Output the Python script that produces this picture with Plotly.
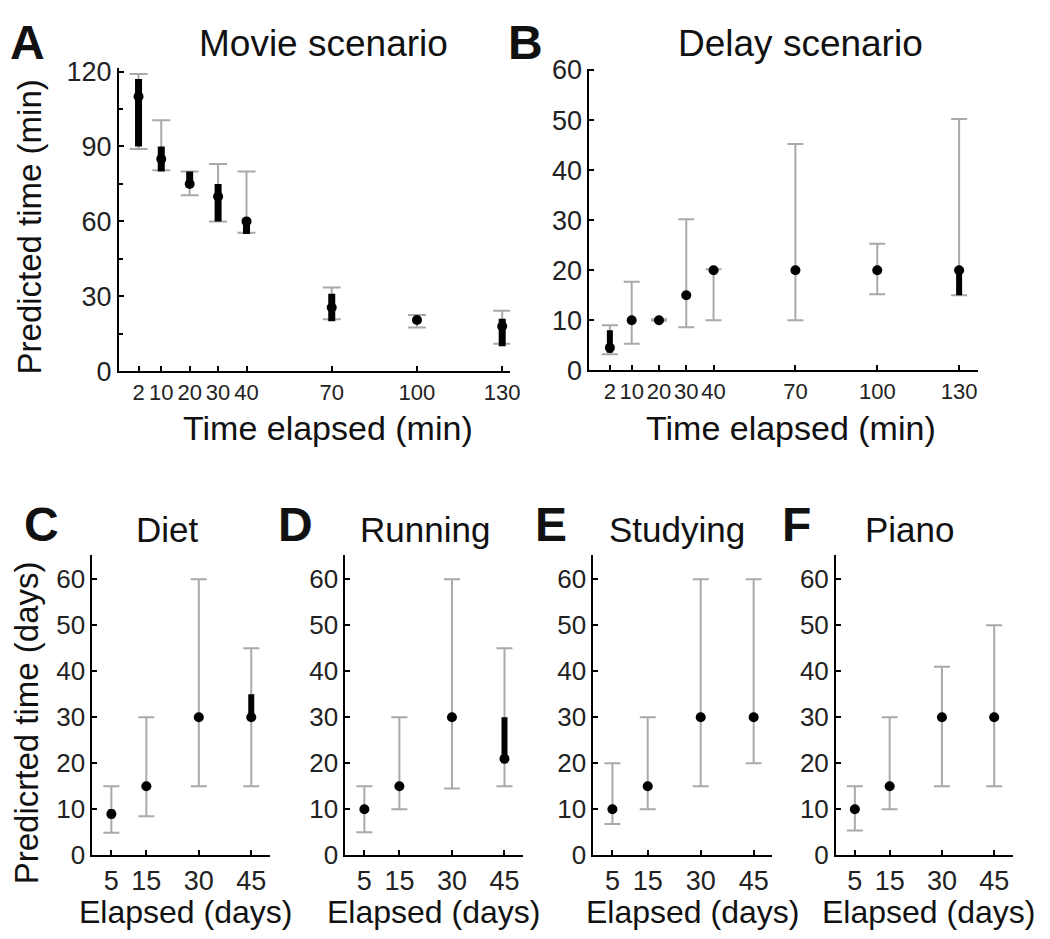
import plotly.graph_objects as go

W, H = 1050, 939

# ---------------- data ----------------
elapsed_min = [2, 10, 20, 30, 40, 70, 100, 130]
movie_med = [110, 85, 75, 70, 60, 25.5, 20.5, 18]
movie_q1 = [90, 80, 75, 60, 55, 20, 20.5, 10]
movie_q3 = [117, 90, 80, 75, 60, 31, 20.5, 21]
movie_lo = [89, 80.5, 70.5, 60, 55.5, 20.8, 17.5, 11]
movie_hi = [119, 100.5, 80, 83, 80, 33.5, 22.5, 24.2]

delay_med = [4.5, 10, 10, 15, 20, 20, 20, 20]
delay_q1 = [3.5, 10, 10, 15, 20, 20, 20, 15]
delay_q3 = [8, 10, 10, 15, 20, 20, 20, 20]
delay_lo = [3.2, 5.3, 9.9, 8.6, 10, 10, 15.2, 15]
delay_hi = [9, 17.7, 10.2, 30.2, 20.2, 45.2, 25.3, 50.2]

elapsed_days = [5, 15, 30, 45]
diet_med = [9, 15, 30, 30]
diet_q1 = [8, 15, 30, 30]
diet_q3 = [10, 15, 30, 35]
diet_lo = [4.9, 8.5, 15, 15]
diet_hi = [15, 30, 60, 45]

running_med = [10, 15, 30, 21]
running_q1 = [10, 15, 30, 20]
running_q3 = [10, 15, 30, 30]
running_lo = [5, 10, 14.5, 15]
running_hi = [15, 30, 60, 45]

studying_med = [10, 15, 30, 30]
studying_q1 = [10, 15, 30, 30]
studying_q3 = [10, 15, 30, 30]
studying_lo = [6.8, 10, 15, 20]
studying_hi = [20, 30, 60, 60]

piano_med = [10, 15, 30, 30]
piano_q1 = [10, 15, 30, 30]
piano_q3 = [10, 15, 30, 30]
piano_lo = [5.4, 10, 15, 15]
piano_hi = [15, 30, 41, 50]

min_ticks = [2, 10, 20, 30, 40, 70, 100, 130]
day_ticks = [5, 15, 30, 45]

GREY = "#a9a9a9"
FONT = "Liberation Sans, Arial, sans-serif"
TICKCOL = "#222222"

fig = go.Figure()


def add_panel(idx, x, med, q1, q3, lo, hi, capw, barw):
    xa = "x" if idx == 1 else f"x{idx}"
    ya = "y" if idx == 1 else f"y{idx}"
    fig.add_trace(go.Scatter(
        x=x, y=med, mode="markers", xaxis=xa, yaxis=ya,
        marker=dict(size=1, opacity=0), showlegend=False, hoverinfo="skip",
        error_y=dict(type="data", symmetric=False,
                     array=[h - m for h, m in zip(hi, med)],
                     arrayminus=[m - l for m, l in zip(med, lo)],
                     color=GREY, thickness=2, width=capw)))
    fig.add_trace(go.Scatter(
        x=x, y=med, mode="markers", xaxis=xa, yaxis=ya,
        marker=dict(size=1, opacity=0), showlegend=False, hoverinfo="skip",
        error_y=dict(type="data", symmetric=False,
                     array=[b - m for b, m in zip(q3, med)],
                     arrayminus=[m - a for m, a in zip(med, q1)],
                     color="black", thickness=barw, width=0)))
    fig.add_trace(go.Scatter(
        x=x, y=med, mode="markers", xaxis=xa, yaxis=ya,
        marker=dict(size=10, color="black"), showlegend=False))


add_panel(1, elapsed_min, movie_med, movie_q1, movie_q3, movie_lo, movie_hi, 9, 7)
add_panel(2, elapsed_min, delay_med, delay_q1, delay_q3, delay_lo, delay_hi, 8, 6)
add_panel(3, elapsed_days, diet_med, diet_q1, diet_q3, diet_lo, diet_hi, 8, 6)
add_panel(4, elapsed_days, running_med, running_q1, running_q3, running_lo, running_hi, 8, 6)
add_panel(5, elapsed_days, studying_med, studying_q1, studying_q3, studying_lo, studying_hi, 8, 6)
add_panel(6, elapsed_days, piano_med, piano_q1, piano_q3, piano_lo, piano_hi, 8, 6)


def px_x(a, b):
    return [a / W, b / W]


def px_y(top, bottom):
    return [1 - bottom / H, 1 - top / H]


axis_common = dict(showline=True, linecolor="black", linewidth=2, ticks="inside",
                   tickcolor="black", tickwidth=2, ticklen=5, showgrid=False,
                   zeroline=False, mirror=False)

layout = dict(
    width=W, height=H, margin=dict(l=0, r=0, t=0, b=0),
    plot_bgcolor="white", paper_bgcolor="white", showlegend=False,
    font=dict(family=FONT, color=TICKCOL),
)

# Panel A
layout["xaxis"] = dict(axis_common, domain=px_x(112, 507), range=[-4.9, 132.8], anchor="y",
                       tickvals=min_ticks, tickangle=0,
                       tickfont=dict(size=22, color=TICKCOL))
layout["yaxis"] = dict(axis_common, domain=px_y(48, 361), range=[0, 121.6], anchor="x",
                       tickvals=[0, 30, 60, 90, 120], tickfont=dict(size=27, color=TICKCOL),
                       minor=dict(tickvals=[15, 45, 75, 105], ticks="inside", ticklen=4,
                                  tickcolor="black", tickwidth=2))
# Panel B
layout["xaxis2"] = dict(axis_common, domain=px_x(587, 979), range=[-5.5, 136.8], anchor="y2",
                        tickvals=min_ticks, tickangle=0,
                        tickfont=dict(size=22, color=TICKCOL))
layout["yaxis2"] = dict(axis_common, domain=px_y(49, 360), range=[0, 60.3], anchor="x2",
                        tickvals=[0, 10, 20, 30, 40, 50, 60], tickfont=dict(size=27, color=TICKCOL))

lower_domains = [(85.3, 264.3), (340.7, 520), (591, 771.7), (836, 1014.3)]
for i, (a, b) in enumerate(lower_domains):
    n = i + 3
    layout[f"xaxis{n}"] = dict(axis_common, domain=px_x(a, b), range=[-0.4, 50.3], anchor=f"y{n}",
                               tickvals=day_ticks, tickangle=0,
                               tickfont=dict(size=27, color=TICKCOL))
    layout[f"yaxis{n}"] = dict(axis_common, domain=px_y(550.7, 860), range=[0, 65.2], anchor=f"x{n}",
                               tickvals=[0, 10, 20, 30, 40, 50, 60],
                               tickfont=dict(size=26, color=TICKCOL))

fig.update_layout(**layout)


def ann(text, x, y, size, bold=False, angle=0, family=FONT):
    fig.add_annotation(text=f"<b>{text}</b>" if bold else text, x=x / W, y=1 - y / H,
                       xref="paper", yref="paper", xanchor="center", yanchor="middle",
                       showarrow=False, textangle=angle,
                       font=dict(size=size, family=family, color="#111"))


# panel letters
for t, x, y in [("A", 20, 22), ("B", 522, 22), ("C", 34, 519), ("D", 290, 519),
                ("E", 548, 519), ("F", 796, 519)]:
    ann(t, x, y, 48, bold=True)

# titles
ann("Movie scenario", 319, 23, 37)
ann("Delay scenario", 800, 23, 37)
ann("Diet", 161, 524, 35)
ann("Running", 421, 524, 35)
ann("Studying", 675, 524, 35)
ann("Piano", 911, 524, 35)

# axis titles
ann("Time elapsed (min)", 323, 420, 34)
ann("Time elapsed (min)", 791, 420, 34)
ann("Predicted time (min)", 22, 212, 33, angle=-90)
ann("Predicrted time (days)", 19, 723, 33, angle=-90)
for cx in [179, 430, 691, 929]:
    ann("Elapsed (days)", cx, 918, 32)

fig.write_html("out.html")
